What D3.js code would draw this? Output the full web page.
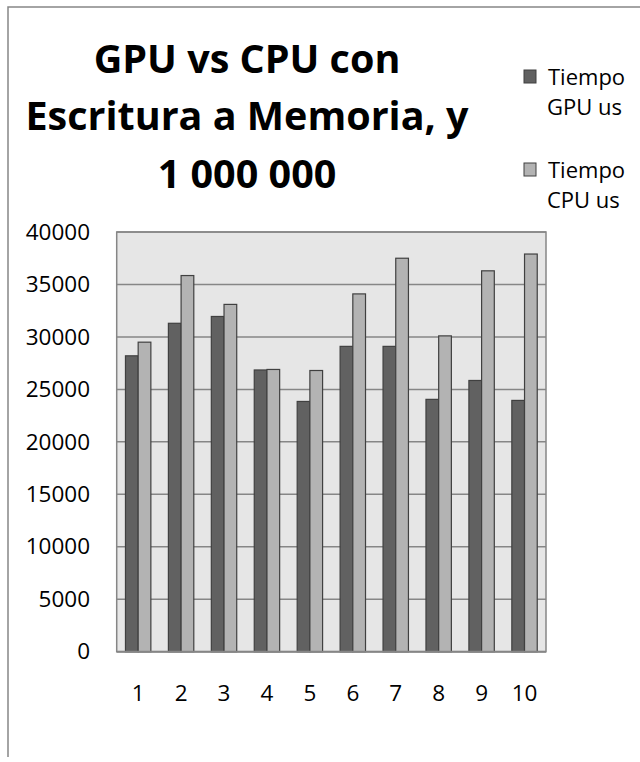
<!DOCTYPE html>
<html>
<head>
<meta charset="utf-8">
<script src="https://cdn.jsdelivr.net/npm/d3@7"></script>
<style>
  body { margin: 0; background: #fff; }
  text { font-family: "Open Sans", sans-serif; fill: #000; }
</style>
</head>
<body>
<div id="chart"></div>
<script>
const categories = ["1", "2", "3", "4", "5", "6", "7", "8", "9", "10"]
const gpuValues = [28200, 31300, 31950, 26850, 23850, 29100, 29100, 24050, 25850, 23950]
const cpuValues = [29500, 35850, 33100, 26900, 26800, 34100, 37500, 30100, 36300, 37900]
const seriesNames = ["Tiempo GPU us", "Tiempo CPU us"]
const yTicks = [0, 5000, 10000, 15000, 20000, 25000, 30000, 35000, 40000]
const titleLines = ["GPU vs CPU con", "Escritura a Memoria, y", "1 000 000"]

const width = 640
const height = 762
const plot = {left: 116.7, right: 546, top: 232, bottom: 651.7}

const svg = d3.select("#chart")
  .append("svg")
  .attr("width", width)
  .attr("height", height)

// chart border (only left and top show in the frame)
svg.append("path")
  .attr("d", "M8,757V7H640")
  .attr("fill", "none")
  .attr("stroke", "#868686")
  .attr("stroke-width", 1.5)

const xScale = d3.scaleBand()
  .domain(categories)
  .range([plot.left, plot.right])

const inner = d3.scaleBand()
  .domain([0, 1])
  .range([0, xScale.bandwidth()])
  .paddingOuter(0.69)

const yScale = d3.scaleLinear()
  .domain([0, 40000])
  .range([plot.bottom, plot.top])

// plot background
svg.append("rect")
  .attr("x", plot.left)
  .attr("y", plot.top)
  .attr("width", plot.right - plot.left)
  .attr("height", plot.bottom - plot.top)
  .attr("fill", "#e6e6e6")
  .attr("stroke", "#868686")
  .attr("stroke-width", 1.5)

// gridlines
svg.selectAll(".grid")
  .data(yTicks.slice(1))
  .enter()
  .append("line")
  .attr("class", "grid")
  .attr("x1", plot.left)
  .attr("x2", plot.right)
  .attr("y1", d => yScale(d))
  .attr("y2", d => yScale(d))
  .attr("stroke", "#868686")
  .attr("stroke-width", 1.5)

const rows = categories.map((c, i) => ({cat: c, values: [gpuValues[i], cpuValues[i]]}))
const fills = ["#616161", "#b3b3b3"]

const groups = svg.selectAll(".group")
  .data(rows)
  .enter()
  .append("g")
  .attr("transform", d => `translate(${xScale(d.cat)},0)`)

groups.selectAll("rect")
  .data(d => d.values)
  .enter()
  .append("rect")
  .attr("x", (d, i) => inner(i))
  .attr("y", d => yScale(d))
  .attr("width", inner.bandwidth())
  .attr("height", d => yScale(0) - yScale(d))
  .attr("fill", (d, i) => fills[i])
  .attr("stroke", "#404040")
  .attr("stroke-width", 1.2)

// axis line at bottom
svg.append("line")
  .attr("x1", plot.left)
  .attr("x2", plot.right)
  .attr("y1", plot.bottom)
  .attr("y2", plot.bottom)
  .attr("stroke", "#868686")
  .attr("stroke-width", 2)

const yAxis = d3.axisLeft(yScale).tickValues(yTicks).tickSize(0).tickPadding(0).tickFormat(d3.format("d"))
const yG = svg.append("g")
  .attr("transform", "translate(90,0)")
  .call(yAxis)
yG.select(".domain").remove()
yG.selectAll("text").attr("font-size", 22.5).attr("font-family", "Open Sans").attr("fill", "#000")

const xAxis = d3.axisBottom(xScale).tickSize(0).tickPadding(0)
const xG = svg.append("g")
  .attr("transform", "translate(0,685)")
  .call(xAxis)
xG.select(".domain").remove()
xG.selectAll("text").attr("font-size", 22.5).attr("font-family", "Open Sans").attr("fill", "#000")

// title
svg.selectAll(".title")
  .data(titleLines)
  .enter()
  .append("text")
  .attr("x", 247)
  .attr("y", (d, i) => [73, 130, 188][i])
  .attr("text-anchor", "middle")
  .attr("font-size", 39.5)
  .attr("font-weight", "bold")
  .text(d => d)

// legend
const legend = svg.selectAll(".legend")
  .data(seriesNames)
  .enter()
  .append("g")
  .attr("transform", (d, i) => `translate(524,${70 + i * 93})`)

legend.append("rect")
  .attr("width", 12)
  .attr("height", 13)
  .attr("fill", (d, i) => fills[i])
  .attr("stroke", "#404040")
  .attr("stroke-width", 1)

legend.append("text")
  .attr("x", 24)
  .attr("y", 15)
  .attr("font-size", 22)
  .text(d => d.split(" ")[0])

legend.append("text")
  .attr("x", 23)
  .attr("y", 45)
  .attr("font-size", 22)
  .text(d => d.split(" ").slice(1).join(" "))
</script>
</body>
</html>
